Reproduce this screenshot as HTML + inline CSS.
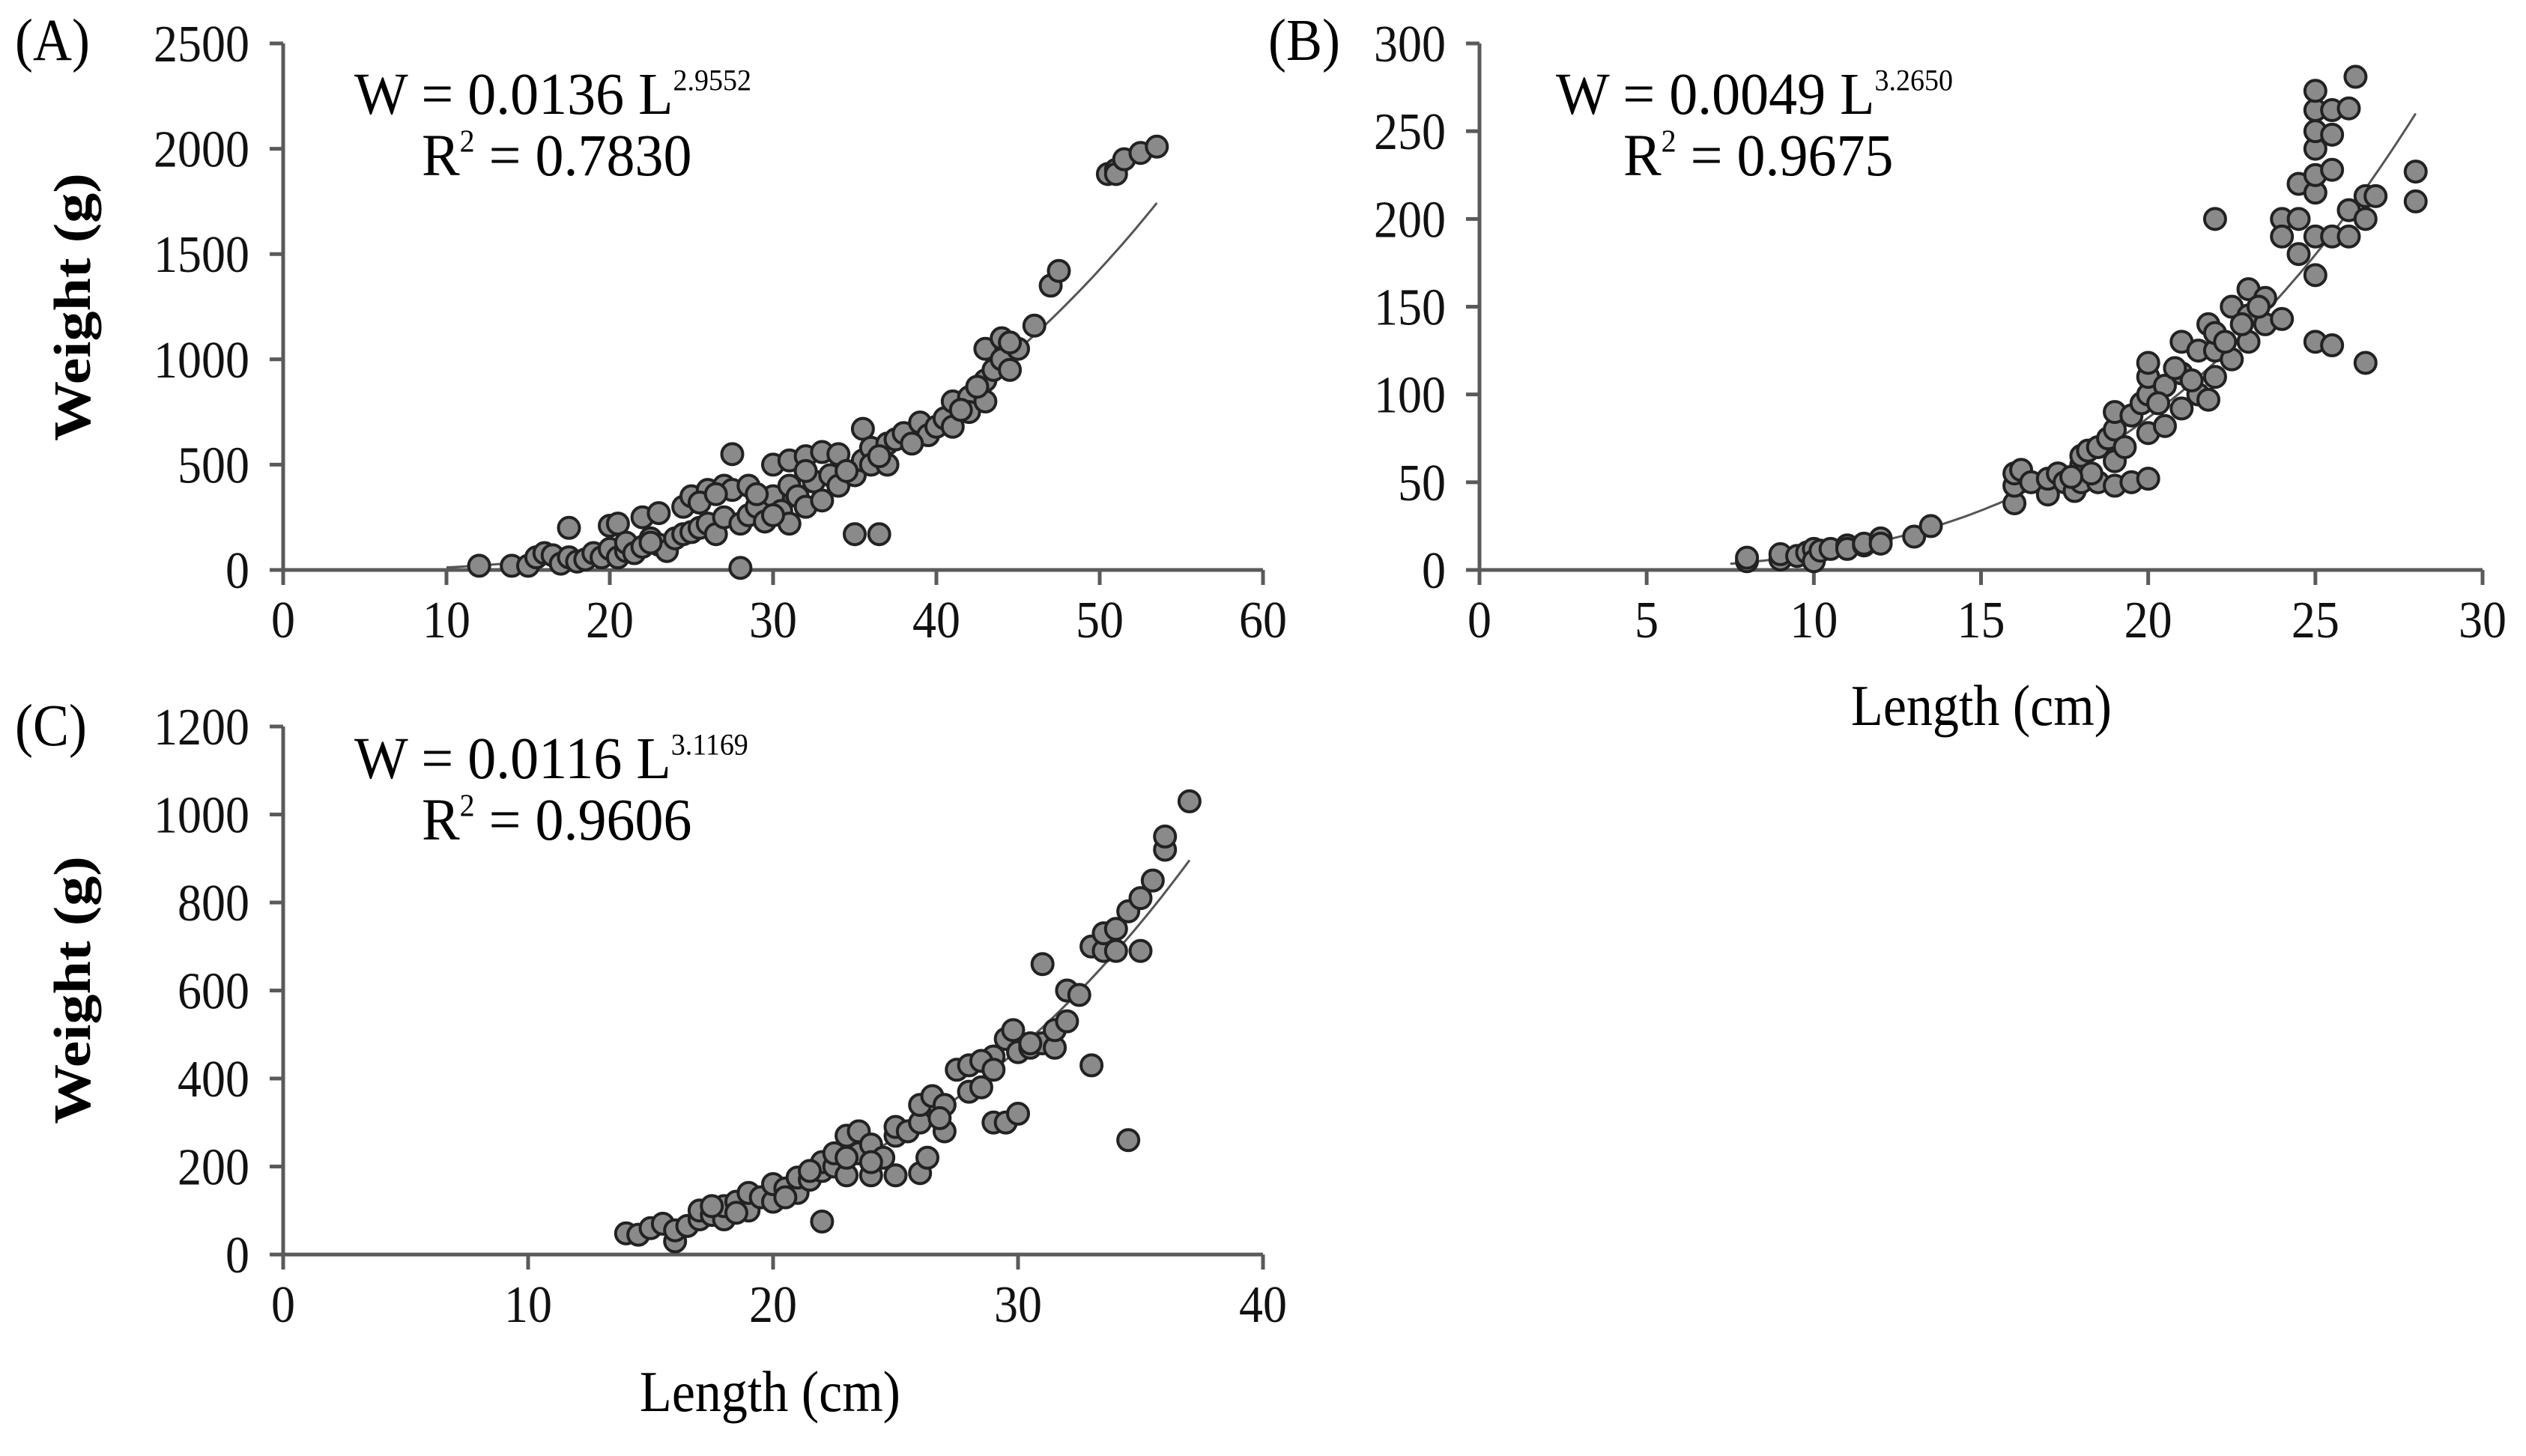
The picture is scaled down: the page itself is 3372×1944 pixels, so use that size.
<!DOCTYPE html>
<html><head><meta charset="utf-8"><style>
html,body{margin:0;padding:0;background:#fff;}
svg{display:block;font-family:"Liberation Serif",serif;}
</style></head><body>
<svg id="fig" width="3372" height="1944" viewBox="0 0 3372 1944"></svg>
<script>
// Panel A data [length, weight]
const dataA = [[12,20],[14,20],[15,20],[15.5,60],[16,80],[16.5,70],[17,30],[17.5,200],[17.5,60],[18,40],[18.5,50],[19,80],[19.5,60],[20,210],[20,100],[20.5,220],[20.5,60],[21,90],[21,130],[21.5,80],[22,250],[22,110],[22.5,150],[23,270],[23,120],[23.5,90],[24,150],[24.5,300],[24.5,170],[25,350],[25,180],[25.5,200],[26,380],[26,220],[26.5,170],[27,400],[27,250],[27.5,550],[27.5,380],[28,10],[28,220],[28.5,400],[28.5,260],[29,300],[29.5,230],[30,500],[30,350],[30.5,280],[31,520],[31,400],[31,220],[31.5,350],[32,540],[32,300],[32.5,420],[33,560],[33,330],[33.5,450],[34,550],[34,400],[35,170],[35,450],[35.5,670],[35.5,520],[36,580],[36,500],[36.5,170],[37,600],[37,500],[37.5,620],[38,650],[39,700],[39.5,640],[40,680],[40.5,720],[41,800],[41,680],[42,820],[42,750],[43,1050],[43,900],[43,800],[43.5,950],[44,1100],[44,1000],[44.5,950],[45,1050],[46,1160],[47,1350],[47.5,1420],[50.5,1880],[51,1900],[51,1880],[51.5,1950],[52.5,1980],[53.5,2010],[22.5,130],[25.5,320],[26.5,360],[29,360],[30,260],[32,470],[34.5,470],[36.5,540],[38.5,600],[41.5,760],[42.5,870],[44.5,1080]];
// Panel B data
const dataB = [[8,5],[8,7],[9,6],[9,9],[9.5,8],[9.8,10],[10,12],[10,5],[10.2,11],[10.5,12],[11,14],[11,12],[11.5,14],[11.5,15],[12,18],[12,15],[13,19],[13.5,25],[16,38],[16,48],[16,55],[16.2,57],[16.5,50],[17,43],[17,52],[17.3,55],[17.5,50],[17.8,45],[18,50],[18,60],[18,65],[18.2,68],[18.5,50],[18.5,70],[18.8,75],[19,48],[19,62],[19,80],[19,90],[19.5,88],[19.5,50],[19.8,95],[20,52],[20,78],[20,100],[20,110],[20,118],[20.5,82],[20.5,105],[21,92],[21,112],[21,130],[21.5,100],[21.5,125],[21.8,97],[21.8,140],[22,110],[22,125],[22,135],[22,200],[22.5,120],[22.5,150],[23,130],[23,145],[23,160],[23.5,140],[23.5,155],[24,143],[24,200],[24,190],[24.5,180],[24.5,220],[24.5,200],[25,130],[25,168],[25,190],[25,215],[25,225],[25,240],[25,250],[25,262],[25,273],[25.5,128],[25.5,190],[25.5,228],[25.5,248],[25.5,262],[26,190],[26,205],[26,263],[26.2,281],[26.5,118],[26.5,200],[26.5,213],[26.8,213],[28,210],[28,227],[18.3,55],[19.3,70],[20.3,95],[20.8,115],[21.3,108],[22.3,130],[22.8,140],[23.3,150],[17.7,53]];
// Panel C data
const dataC = [[14,48],[14.5,45],[15,60],[15.5,70],[16,30],[16,55],[16.5,65],[17,80],[17,100],[17.5,90],[18,80],[18,110],[18.5,120],[19,100],[19,140],[19.5,130],[20,120],[20,160],[20.5,150],[21,140],[21,175],[21.5,170],[22,75],[22,190],[22,210],[22.5,200],[23,180],[23,270],[23.5,230],[23.5,280],[24,180],[24,250],[24.5,220],[25,180],[25,270],[25,290],[25.5,280],[26,185],[26,300],[26,340],[26.3,220],[26.5,360],[27,280],[27,340],[27.5,420],[28,370],[28,430],[28.5,380],[29,300],[29,450],[29.5,300],[29.5,490],[29.8,510],[30,320],[30,460],[30.5,470],[31,480],[31,660],[31.5,470],[31.5,510],[32,600],[32,530],[32.5,590],[33,430],[33,700],[33.5,690],[33.5,730],[34,740],[34,690],[34.5,260],[34.5,780],[35,810],[35,690],[35.5,850],[36,920],[36,950],[37,1030],[17.5,110],[18.5,95],[20.5,130],[21.5,190],[22.5,230],[23,220],[24,210],[26.8,310],[28.5,440],[29,420],[30.5,480]];
// Fit parameters [a, b, Lmin, Lmax]
const fitA = [0.0136, 2.9552, 10, 53.5];
const fitB = [0.0049, 3.2650, 7.5, 28];
const fitC = [0.0116, 3.1169, 14, 37];
const xTicksA = [0,10,20,30,40,50,60];
const yTicksA = [0,500,1000,1500,2000,2500];
const xTicksB = [0,5,10,15,20,25,30];
const yTicksB = [0,50,100,150,200,250,300];
const xTicksC = [0,10,20,30,40];
const yTicksC = [0,200,400,600,800,1000,1200];

const NS = 'http://www.w3.org/2000/svg';
const svg = document.getElementById('fig');
function mk(tag, attrs, parent, text){
  const e = document.createElementNS(NS, tag);
  for (const k in attrs) e.setAttribute(k, attrs[k]);
  if (text !== undefined) e.textContent = text;
  parent.appendChild(e);
  return e;
}
function panel(cfg){
  const g = mk('g', {}, svg);
  
  
  const xmax = cfg.xt[cfg.xt.length-1], ymax = cfg.yt[cfg.yt.length-1];
  const sx = v => cfg.x0 + (cfg.x1 - cfg.x0) * v / xmax;
  const sy = v => cfg.y0 - (cfg.y0 - cfg.y1) * v / ymax;
  const ax = mk('g', {stroke:'#5a5a5a','stroke-width':5,fill:'none'}, g);
  
  
  mk('line', {x1:cfg.x0-18, y1:cfg.y0, x2:cfg.x1, y2:cfg.y0}, ax);
  mk('line', {x1:cfg.x0, y1:cfg.y0+20, x2:cfg.x0, y2:cfg.y1}, ax);
  cfg.xt.forEach(t => mk('line', {x1:sx(t), y1:cfg.y0, x2:sx(t), y2:cfg.y0+20}, ax));
  cfg.yt.forEach(t => mk('line', {x1:cfg.x0-18, y1:sy(t), x2:cfg.x0, y2:sy(t)}, ax));
  const tl = mk('g', {'font-size':64, fill:'#111'}, g);
  
  
  cfg.xt.forEach(t => mk('text', {x:0, y:0, 'text-anchor':'middle', transform:'translate(' + sx(t) + ',' + (cfg.y0+90) + ') scale(1,1.1)'}, tl, String(t)));
  cfg.yt.forEach(t => mk('text', {x:0, y:0, 'text-anchor':'end', transform:'translate(' + (cfg.x0-45) + ',' + (sy(t)+24) + ') scale(1,1.1)'}, tl, String(t)));
  const f = cfg.fit; let d = '';
  for (let i = 0; i <= 100; i++){
    const L = f[2] + (f[3]-f[2]) * i / 100;
    const W = f[0] * Math.pow(L, f[1]);
    d += (i ? 'L' : 'M') + sx(L).toFixed(1) + ' ' + sy(W).toFixed(1);
  }
  const fl = mk('path', {d:d, stroke:'#555', 'stroke-width':3, fill:'none'}, g);
  
  
  const pg = mk('g', {fill:'#8a8a8a', stroke:'#222', 'stroke-width':4}, g);
  
  
  cfg.data.forEach(p => {
    const c = mk('circle', {cx:sx(p[0]), cy:sy(p[1]), r:14}, pg);
    
    
  });
  const pl = mk('text', {x:0, y:0, 'font-size':72, transform:'translate(' + cfg.lx + ',' + cfg.ly + ') scale(1,1.1)'}, g, '(' + cfg.id.toUpperCase() + ')');
  
  
  const eq = mk('text', {x:0, y:0, 'font-size':76, transform:'translate(' + cfg.ex + ',' + cfg.ey + ') scale(1,1.05)'}, g);
  
  
  mk('tspan', {}, eq, 'W = ' + f[0].toFixed(4) + ' L');
  mk('tspan', {'font-size':38, dy:-30}, eq, f[1].toFixed(4));
  const r2 = mk('text', {x:0, y:0, 'font-size':76, transform:'translate(' + (cfg.ex+90) + ',' + (cfg.ey+82) + ') scale(1,1.05)'}, g);
  
  
  mk('tspan', {}, r2, 'R');
  mk('tspan', {'font-size':40, dy:-30}, r2, '2');
  mk('tspan', {dy:30}, r2, ' = ' + cfg.r2);
  if (cfg.ytitle){
    const yt = mk('text', {x:0, y:0, 'font-size':64, 'font-weight':'bold', 'text-anchor':'middle',
      transform:'translate(' + cfg.ytx + ',' + cfg.yty + ') rotate(-90) scale(1.25,1.1)'}, g, 'Weight (g)');
    
    
  }
  if (cfg.xtitle){
    const xt = mk('text', {x:0, y:0, 'font-size':70, 'text-anchor':'middle', transform:'translate(' + cfg.xtx + ',' + cfg.xty + ') scale(1,1.1)'}, g, 'Length (cm)');
    
    
  }
}
panel({id:'a', data:dataA, fit:fitA, xt:xTicksA, yt:yTicksA, x0:378, x1:1686, y0:761, y1:58,
  lx:20, ly:80, ex:473, ey:152, r2:'0.7830', ytitle:true, ytx:120, yty:410});
panel({id:'b', data:dataB, fit:fitB, xt:xTicksB, yt:yTicksB, x0:1975, x1:3314, y0:761, y1:58,
  lx:1693, ly:80, ex:2077, ey:152, r2:'0.9675', xtitle:true, xtx:2645, xty:968});
panel({id:'c', data:dataC, fit:fitC, xt:xTicksC, yt:yTicksC, x0:378, x1:1686, y0:1675, y1:970,
  lx:20, ly:995, ex:473, ey:1039, r2:'0.9606', ytitle:true, ytx:120, yty:1322, xtitle:true, xtx:1028, xty:1884});
</script>
</body></html>
